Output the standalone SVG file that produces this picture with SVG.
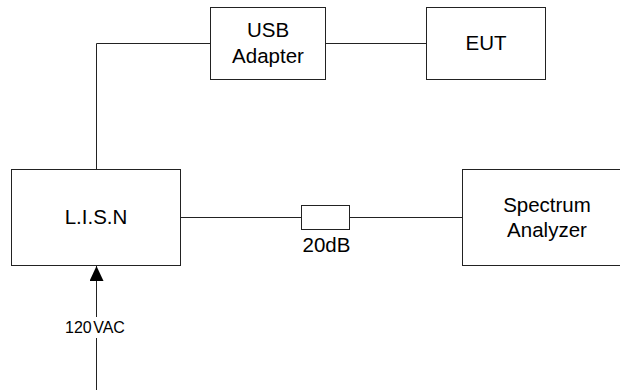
<svg xmlns="http://www.w3.org/2000/svg" width="620" height="390" viewBox="0 0 620 390">
<style>
.box{fill:#fff;stroke:#222;stroke-width:1}
.ln{fill:none;stroke:#222;stroke-width:1}
.t{font-family:"Liberation Sans",Arial,sans-serif;font-size:20.5px;fill:#000;text-anchor:middle}
.s{font-family:"Liberation Sans",Arial,sans-serif;font-size:16px;fill:#000}
</style>
<defs>
<marker id="arr" viewBox="0 0 15 14" refX="15" refY="7" markerWidth="15" markerHeight="14" markerUnits="userSpaceOnUse" orient="auto">
<path d="M0,0 L15,7 L0,14 Z" fill="#000"/>
</marker>
</defs>
<rect width="620" height="390" fill="#fff"/>
<g id="connectors">
<path class="ln" d="M210.5,43.5 H96.5 V169.5"/>
<path class="ln" d="M325.5,43.5 H426.5"/>
<path class="ln" d="M180.5,217.5 H301.5"/>
<path class="ln" d="M349.5,217.5 H462.5"/>
<path class="ln" d="M96.5,390 V338"/>
<path class="ln" d="M96.5,317 V266" marker-end="url(#arr)"/>
</g>
<g id="usb">
<rect class="box" x="210.5" y="7.5" width="115" height="72"/>
<text class="t" x="268" y="37">USB</text>
<text class="t" x="268" y="63">Adapter</text>
</g>
<g id="eut">
<rect class="box" x="426.5" y="7.5" width="119" height="72"/>
<text class="t" x="486" y="50">EUT</text>
</g>
<g id="lisn">
<rect class="box" x="11.5" y="169.5" width="169" height="96"/>
<text class="t" x="96" y="224">L.I.S.N</text>
</g>
<g id="attenuator">
<rect class="box" x="301.5" y="205.5" width="48" height="24"/>
<text class="t" x="326.5" y="252">20dB</text>
</g>
<g id="spectrum">
<rect class="box" x="462.5" y="169.5" width="170" height="96"/>
<text class="t" x="547" y="212">Spectrum</text>
<text class="t" x="547" y="237">Analyzer</text>
</g>
<g id="vac">
<text class="s" x="65" y="333">120<tspan dx="1.5">VAC</tspan></text>
</g>
</svg>
